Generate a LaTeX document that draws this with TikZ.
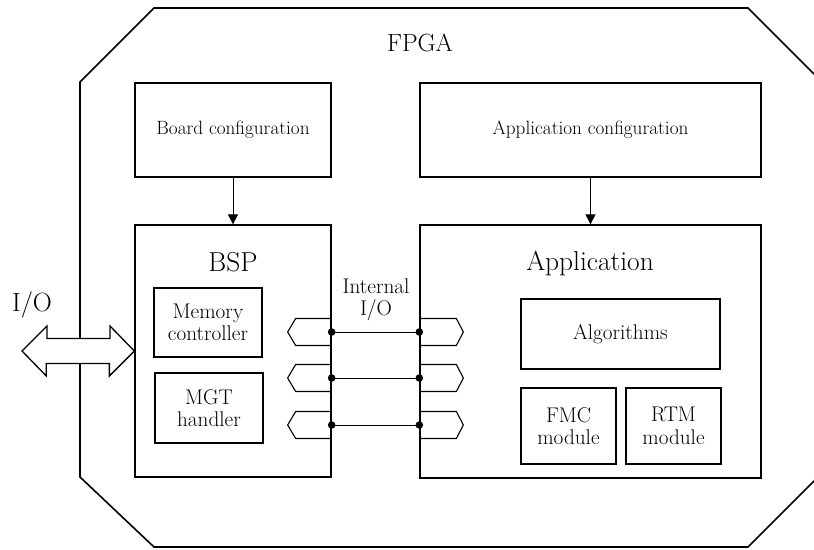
\documentclass[tikz,border=0pt]{standalone}
\usetikzlibrary{arrows.meta}
\tikzset{
  blk/.style={draw, line width=1.3bp, inner sep=0pt, align=center},
  lbl/.style={inner sep=0pt, align=center},
  link/.style={line width=1bp, -{Triangle[length=10bp,width=10bp]}},
  wire/.style={line width=1bp},
  port/.style={line width=1.1bp},
  outline/.style={line width=1.6bp},
}
\newcommand{\smallfs}{\fontsize{19.3}{23}\selectfont}
\newcommand{\midfs}{\fontsize{21.3}{22.5}\selectfont}
\newcommand{\titlefs}{\fontsize{25}{30}\selectfont}
\newcommand{\bigfs}{\fontsize{27.5}{32}\selectfont}
\newcommand{\iofs}{\fontsize{26.5}{30}\selectfont}

\begin{document}
\begin{tikzpicture}[x=1bp,y=-1bp]
\useasboundingbox (0,0) rectangle (814,550);

% FPGA outline (octagon, right side runs past the page)
\draw[outline] (154,8) -- (748,8) -- (822,82) -- (822,473) -- (748,547)
  -- (154,547) -- (80,477) -- (80,82) -- cycle;
\node[lbl, font=\titlefs] (fpga) at (420,43) {FPGA};

% configuration blocks
\node[blk, minimum width=196bp, minimum height=94bp, font=\smallfs] (board) at (233,130) {Board configuration};
\node[blk, minimum width=341bp, minimum height=94bp, font=\smallfs] (appcfg) at (590.5,130) {Application configuration};

% main blocks
\node[blk, minimum width=196bp, minimum height=252bp] (bsp) at (233,351) {};
\node[lbl, font=\bigfs] (bsplbl) at (233,262) {BSP};
\node[blk, minimum width=341bp, minimum height=253bp] (app) at (590.5,351.5) {};
\node[lbl, font=\bigfs] (applbl) at (590,263) {Application};

% BSP contents
\node[blk, minimum width=108bp, minimum height=69bp, font=\midfs] (mem) at (208,322.5) {Memory\\controller};
\node[blk, minimum width=108bp, minimum height=70bp, font=\midfs] (mgt) at (209,408) {MGT\\handler};

% Application contents
\node[blk, minimum width=199bp, minimum height=70bp, font=\midfs] (alg) at (620.5,334) {Algorithms};
\node[blk, minimum width=95bp, minimum height=76bp, font=\midfs] (fmc) at (568.5,426) {FMC\\module};
\node[blk, minimum width=95bp, minimum height=76bp, font=\midfs] (rtm) at (673.5,426) {RTM\\module};

% configuration flow
\draw[link] (board) -- (bsp);
\draw[link] (appcfg) -- (app);

% internal I/O ports
\node[lbl, font=\midfs] (iio) at (376,300) {Internal\\I/O};
\foreach \i/\y in {1/332,2/378,3/425}{
  \coordinate (pl\i) at (bsp.east |- 0,\y);
  \coordinate (pr\i) at (app.west |- 0,\y);
  \draw[port] (pl\i) ++(0,-13.5) -- ++(-36,0) -- ++(-8,13.5) -- ++(8,13.5) -- ++(36,0);
  \draw[port] (pr\i) ++(0,-13.5) -- ++(37,0) -- ++(7,13.5) -- ++(-7,13.5) -- ++(-37,0);
  \draw[wire] (pl\i) -- (pr\i);
  \fill (pl\i) circle (3.8bp);
  \fill (pr\i) circle (3.8bp);
}

% external I/O double arrow
\node[lbl, font=\iofs] (iolbl) at (32,305) {I/O};
\coordinate (ioend) at (22,351);
\draw[line width=1.3bp, fill=white] (ioend) -- ++(25,-25) -- ++(0,12.5) -- ++(63,0) -- ++(0,-12.5)
  -- (bsp.west |- ioend) -- ++(-25,25) -- ++(0,-12.5) -- ++(-63,0) -- ++(0,12.5) -- cycle;
\end{tikzpicture}
\end{document}
